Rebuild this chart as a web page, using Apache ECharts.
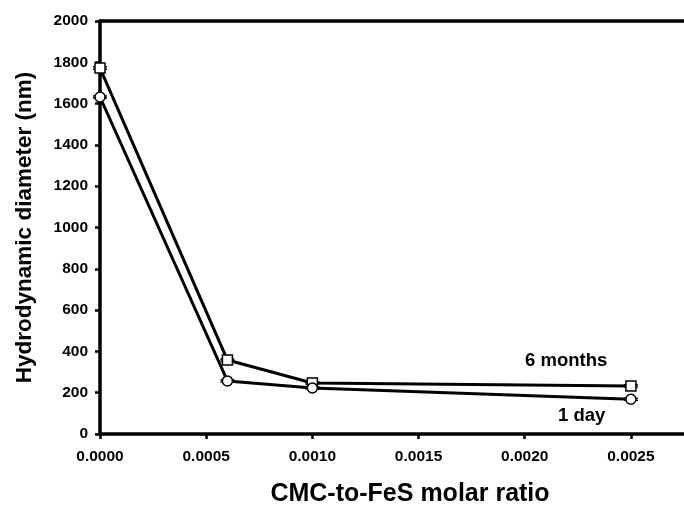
<!DOCTYPE html>
<html><head><meta charset="utf-8">
<script src="https://cdn.jsdelivr.net/npm/echarts@6/dist/echarts.min.js"></script>
<style>html,body{margin:0;padding:0;background:#fff}#c{width:684px;height:505px}</style>
</head><body><div id="c"></div>
<script>
const ratios = [0.0000, 0.0006, 0.0010, 0.0025];
const sixMonths = [1772, 358, 247, 233];
const sixMonthsErr = [6, 5, 5, 5];
const oneDay = [1632, 257, 223, 168];
const oneDayErr = [5, 5, 5, 5];
const yTicks = [0, 200, 400, 600, 800, 1000, 1200, 1400, 1600, 1800, 2000];
const xTicks = ['0.0000', '0.0005', '0.0010', '0.0015', '0.0020', '0.0025'];
const seriesNames = ['6 months', '1 day'];
const xTitle = 'CMC-to-FeS molar ratio';
const yTitle = 'Hydrodynamic diameter (nm)';

const font = '"Liberation Sans", Arial, sans-serif';
const chart = echarts.init(document.getElementById('c'));

function errSeries(vals, errs) {
  return {
    type: 'custom', z: 1, silent: true,
    data: ratios.map((x, i) => [x, vals[i] - errs[i], vals[i] + errs[i]]),
    renderItem: function (params, api) {
      const lo = api.coord([api.value(0), api.value(1)]);
      const hi = api.coord([api.value(0), api.value(2)]);
      const w = 7;
      const st = { stroke: '#000', lineWidth: 1.5 };
      return { type: 'group', children: [
        { type: 'line', shape: { x1: lo[0], y1: lo[1], x2: hi[0], y2: hi[1] }, style: st },
        { type: 'line', shape: { x1: lo[0] - w, y1: lo[1], x2: lo[0] + w, y2: lo[1] }, style: st },
        { type: 'line', shape: { x1: hi[0] - w, y1: hi[1], x2: hi[0] + w, y2: hi[1] }, style: st }
      ]};
    }
  };
}

chart.setOption({
  backgroundColor: '#fff',
  animation: false,
  grid: { left: 100, right: 0, top: 21, bottom: 71, containLabel: false },
  xAxis: [{
    type: 'value', min: 0, max: 0.00275, interval: 0.0005,
    axisLine: { lineStyle: { color: '#000', width: 3.5 } },
    axisTick: { show: true, length: 5, lineStyle: { color: '#000', width: 2.5 } },
    axisLabel: { fontFamily: font, fontWeight: 'bold', fontSize: 15.5, color: '#000', margin: 15,
      showMaxLabel: false,
      formatter: (v) => { const i = Math.round(v / 0.0005); return xTicks[i] || ''; } },
    splitLine: { show: false }
  }, {
    type: 'value', position: 'top', min: 0, max: 0.00275,
    axisLine: { show: true, lineStyle: { color: '#000', width: 3.5 } },
    axisTick: { show: false }, axisLabel: { show: false }, splitLine: { show: false }
  }],
  yAxis: {
    type: 'value', min: yTicks[0], max: yTicks[yTicks.length - 1], interval: 200,
    name: yTitle, nameLocation: 'middle', nameGap: 64,
    nameTextStyle: { fontFamily: font, fontWeight: 'bold', fontSize: 22.5, color: '#000' },
    axisLine: { show: true, lineStyle: { color: '#000', width: 3.5 } },
    axisTick: { show: true, length: 5, lineStyle: { color: '#000', width: 2.5 } },
    axisLabel: { fontFamily: font, fontWeight: 'bold', fontSize: 15.5, color: '#000', margin: 12,
      formatter: (v) => String(v) },
    splitLine: { show: false }
  },
  series: [
    errSeries(sixMonths, sixMonthsErr),
    errSeries(oneDay, oneDayErr),
    {
      name: seriesNames[0], type: 'line', z: 3,
      data: ratios.map((x, i) => [x, sixMonths[i]]),
      symbol: 'rect', symbolSize: 10,
      lineStyle: { color: '#000', width: 3 },
      itemStyle: { color: '#fff', borderColor: '#000', borderWidth: 1.5 }
    },
    {
      name: seriesNames[1], type: 'line', z: 3,
      data: ratios.map((x, i) => [x, oneDay[i]]),
      symbol: 'circle', symbolSize: 10,
      lineStyle: { color: '#000', width: 3 },
      itemStyle: { color: '#fff', borderColor: '#000', borderWidth: 1.5 }
    }
  ],
  graphic: [
    { type: 'text', x: 525, y: 361, style: { text: seriesNames[0], font: 'bold 18.5px ' + font, fill: '#000', verticalAlign: 'middle' } },
    { type: 'text', x: 558, y: 416, style: { text: seriesNames[1], font: 'bold 18.5px ' + font, fill: '#000', verticalAlign: 'middle' } },
    { type: 'text', x: 410, y: 494, style: { text: xTitle, font: 'bold 25px ' + font, fill: '#000', align: 'center', verticalAlign: 'middle' } }
  ]
});
</script></body></html>
